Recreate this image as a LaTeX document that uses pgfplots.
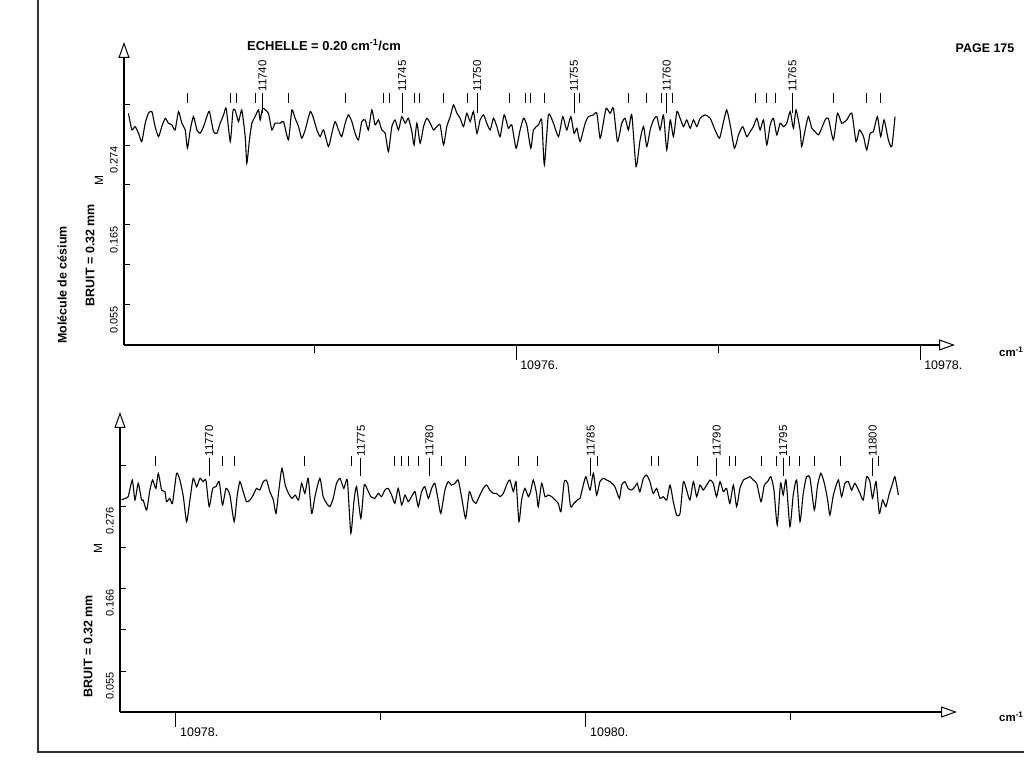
\documentclass[border=0pt]{standalone}
\usepackage{pgfplots}
\pgfplotsset{compat=1.18}
\usetikzlibrary{arrows.meta}
\usepackage{fontspec}
\setmainfont{Liberation Sans}
\tikzset{lbl/.style={rotate=90, anchor=west, inner sep=1.5bp, font=\fontsize{11.5}{12}\selectfont}}
\pgfplotsset{
 chart/.style={
  scale only axis, axis lines=left,
  axis line style={line width=1.1bp, -{Triangle[open,length=16bp,width=11bp,line width=1bp]}},
  tick align=outside,
  major tick length=15bp, minor tick length=8bp,
  tick style={black, line width=1bp},
  ytick style={/pgfplots/major tick length=6bp, xshift=6bp},
  scaled x ticks=false, scaled y ticks=false,
  /pgf/number format/assume math mode=true,
  xticklabel style={font=\fontsize{12.5}{13}\selectfont, anchor=north west, xshift=3bp, inner sep=1bp},
  yticklabel style={font=\fontsize{11}{12}\selectfont, rotate=90, anchor=south east, inner sep=0pt, xshift=-1bp, yshift=-9bp},
  trace/.style={black, line width=1.1bp, smooth, tension=0.35},
  shortmk/.style={only marks, mark=|, mark size=5pt, mark options={line width=1bp, black}},
  longmk/.style={only marks, mark=|, mark size=10pt, mark options={line width=1.1bp, black}},
 }
}
\begin{document}
\begin{tikzpicture}[x=1bp,y=1bp]
\useasboundingbox (0,0) rectangle (1024,768);
\fill[white] (0,0) rectangle (1024,768);
% ---------------- top panel
\begin{axis}[chart, at={(124bp,423bp)}, anchor=south west, width=831bp, height=303bp,
 xmin=10974.059, xmax=10978.173, ymin=0, ymax=0.4166,
 xtick={10976,10978}, xticklabels={10976.,10978.}, minor xtick={10975,10977},
 ytick={0.055,0.110,0.165,0.220,0.2745,0.330}, yticklabels={0.055,,0.165,,0.274,}]
\addplot[trace] coordinates {
(10974.081,0.3186)(10974.098,0.2957)(10974.114,0.3003)(10974.131,0.2911)(10974.147,0.2797)(10974.164,0.3049)(10974.180,0.3186)(10974.197,0.3209)(10974.213,0.3003)(10974.230,0.2865)(10974.246,0.3003)(10974.263,0.3117)(10974.279,0.3049)(10974.296,0.3026)(10974.312,0.2957)(10974.329,0.3209)(10974.345,0.3049)(10974.362,0.2957)(10974.373,0.2705)(10974.387,0.2957)(10974.403,0.3140)(10974.420,0.2957)(10974.436,0.2911)(10974.453,0.3003)(10974.469,0.3140)(10974.482,0.3209)(10974.502,0.2934)(10974.519,0.2911)(10974.535,0.3049)(10974.552,0.3163)(10974.565,0.3255)(10974.585,0.2797)(10974.598,0.3209)(10974.609,0.3232)(10974.626,0.3071)(10974.642,0.3232)(10974.659,0.2865)(10974.667,0.2499)(10974.680,0.2820)(10974.692,0.3049)(10974.708,0.3140)(10974.725,0.3232)(10974.733,0.3094)(10974.745,0.3255)(10974.758,0.3232)(10974.774,0.3186)(10974.791,0.2957)(10974.807,0.3049)(10974.832,0.3049)(10974.849,0.3071)(10974.873,0.2820)(10974.890,0.3232)(10974.906,0.3117)(10974.923,0.3003)(10974.939,0.2843)(10974.956,0.2957)(10974.981,0.3209)(10974.997,0.3117)(10975.014,0.2957)(10975.030,0.2865)(10975.047,0.2957)(10975.071,0.2728)(10975.088,0.2911)(10975.104,0.3071)(10975.121,0.2957)(10975.137,0.2865)(10975.154,0.3049)(10975.170,0.3163)(10975.187,0.3071)(10975.203,0.2911)(10975.220,0.2820)(10975.236,0.3071)(10975.253,0.3094)(10975.269,0.2957)(10975.286,0.3232)(10975.302,0.3026)(10975.319,0.3094)(10975.335,0.2957)(10975.352,0.2911)(10975.368,0.2659)(10975.385,0.3003)(10975.401,0.3094)(10975.418,0.2957)(10975.434,0.3140)(10975.451,0.3049)(10975.467,0.3117)(10975.484,0.2934)(10975.495,0.2751)(10975.509,0.3049)(10975.525,0.2774)(10975.542,0.3003)(10975.558,0.3117)(10975.575,0.3049)(10975.591,0.2957)(10975.608,0.3003)(10975.624,0.3026)(10975.641,0.2751)(10975.657,0.3003)(10975.674,0.3140)(10975.690,0.3300)(10975.707,0.3186)(10975.723,0.3117)(10975.740,0.3003)(10975.756,0.3186)(10975.773,0.3071)(10975.789,0.3209)(10975.806,0.2911)(10975.822,0.3094)(10975.839,0.3163)(10975.855,0.3049)(10975.872,0.2957)(10975.888,0.3117)(10975.905,0.3003)
(10975.921,0.2865)(10975.941,0.3163)(10975.962,0.2980)(10975.979,0.3026)(10976.000,0.2705)(10976.020,0.2957)(10976.037,0.3117)(10976.053,0.3026)(10976.073,0.2705)(10976.086,0.2957)(10976.111,0.3026)(10976.127,0.3094)(10976.140,0.2476)(10976.160,0.3163)(10976.185,0.3049)(10976.210,0.2865)(10976.231,0.3140)(10976.251,0.2957)(10976.271,0.3140)(10976.287,0.2911)(10976.301,0.2980)(10976.317,0.2797)(10976.342,0.3049)(10976.358,0.3140)(10976.383,0.3163)(10976.400,0.3186)(10976.416,0.2843)(10976.433,0.3071)(10976.446,0.3255)(10976.466,0.3186)(10976.482,0.3255)(10976.502,0.2797)(10976.523,0.3049)(10976.540,0.3117)(10976.556,0.2957)(10976.573,0.3163)(10976.594,0.2453)(10976.614,0.2820)(10976.631,0.3003)(10976.647,0.2728)(10976.664,0.2957)(10976.680,0.3094)(10976.697,0.3140)(10976.713,0.2957)(10976.730,0.3163)(10976.746,0.2682)(10976.763,0.3094)(10976.779,0.2865)(10976.796,0.3209)(10976.812,0.3117)(10976.829,0.3003)(10976.845,0.3094)(10976.862,0.2980)(10976.878,0.3094)(10976.895,0.3003)(10976.911,0.3117)(10976.936,0.3163)(10976.961,0.3117)(10976.985,0.2957)(10977.007,0.2843)(10977.027,0.3071)(10977.043,0.3232)(10977.060,0.3026)(10977.081,0.2705)(10977.101,0.2888)(10977.122,0.3003)(10977.142,0.2865)(10977.159,0.2934)(10977.175,0.3003)(10977.192,0.3117)(10977.208,0.2957)(10977.225,0.3094)(10977.241,0.2751)(10977.258,0.3026)(10977.274,0.3117)(10977.291,0.2888)(10977.307,0.3049)(10977.324,0.3003)(10977.340,0.3049)(10977.357,0.3209)(10977.373,0.2980)(10977.386,0.3232)(10977.406,0.2957)(10977.414,0.2728)(10977.431,0.2957)(10977.447,0.3140)(10977.464,0.2980)(10977.480,0.2934)(10977.497,0.2888)(10977.513,0.2980)(10977.530,0.3094)(10977.546,0.3117)(10977.571,0.2820)(10977.591,0.3186)(10977.612,0.3049)(10977.637,0.3094)(10977.662,0.3186)(10977.683,0.2797)(10977.700,0.2957)(10977.720,0.2865)(10977.736,0.2682)(10977.753,0.2911)(10977.769,0.2934)(10977.789,0.3140)(10977.805,0.2865)(10977.822,0.3094)(10977.843,0.2820)(10977.860,0.2728)(10977.876,0.3140)
};
\addplot[shortmk] coordinates {
(10974.373,0.3396)(10974.584,0.3396)(10974.617,0.3396)(10974.711,0.3396)(10974.873,0.3396)(10975.158,0.3396)(10975.343,0.3396)(10975.373,0.3396)(10975.495,0.3396)(10975.521,0.3396)(10975.640,0.3396)(10975.761,0.3396)(10975.967,0.3396)(10976.045,0.3396)(10976.073,0.3396)(10976.140,0.3396)(10976.313,0.3396)(10976.558,0.3396)(10976.644,0.3396)(10976.718,0.3396)(10976.776,0.3396)(10977.183,0.3396)(10977.241,0.3396)(10977.282,0.3396)(10977.571,0.3396)(10977.733,0.3396)(10977.802,0.3396)
};
\addplot[longmk] coordinates {
(10974.744,0.3328)(10975.437,0.3328)(10975.807,0.3328)(10976.287,0.3328)(10976.746,0.3328)(10977.368,0.3328)
};
\node[lbl] at (axis cs:10974.744,0.3465) {11740};
\node[lbl] at (axis cs:10975.437,0.3465) {11745};
\node[lbl] at (axis cs:10975.807,0.3465) {11750};
\node[lbl] at (axis cs:10976.287,0.3465) {11755};
\node[lbl] at (axis cs:10976.746,0.3465) {11760};
\node[lbl] at (axis cs:10977.368,0.3465) {11765};
\end{axis}
% ---------------- bottom panel
\begin{axis}[chart, at={(120bp,56bp)}, anchor=south west, width=837bp, height=300bp,
 xmin=10977.727, xmax=10981.810, ymin=0, ymax=0.4025,
 xtick={10978,10980}, xticklabels={10978.,10980.}, minor xtick={10979,10981},
 ytick={0.055,0.1105,0.166,0.221,0.276,0.331}, yticklabels={0.055,,0.166,,0.276,}]
\addplot[trace] coordinates {
(10977.735,0.2844)(10977.751,0.2866)(10977.767,0.2889)(10977.787,0.3112)(10977.800,0.2844)(10977.816,0.3068)(10977.832,0.2844)(10977.840,0.2844)(10977.857,0.2710)(10977.873,0.2978)(10977.886,0.3112)(10977.902,0.3000)(10977.914,0.3202)(10977.930,0.2978)(10977.946,0.2956)(10977.954,0.2822)(10977.970,0.2866)(10977.983,0.2799)(10978.003,0.3202)(10978.019,0.3112)(10978.036,0.2889)(10978.052,0.2553)(10978.068,0.2844)(10978.084,0.3135)(10978.101,0.3023)(10978.117,0.3135)(10978.133,0.3090)(10978.146,0.3112)(10978.162,0.2755)(10978.179,0.3000)(10978.195,0.3023)(10978.211,0.3090)(10978.227,0.2777)(10978.244,0.3000)(10978.263,0.2911)(10978.284,0.2553)(10978.299,0.2911)(10978.312,0.3090)(10978.328,0.2956)(10978.344,0.2822)(10978.361,0.2844)(10978.377,0.2911)(10978.393,0.3000)(10978.409,0.2978)(10978.426,0.3090)(10978.442,0.3112)(10978.458,0.2956)(10978.475,0.2844)(10978.488,0.2665)(10978.504,0.3023)(10978.517,0.3269)(10978.533,0.3045)(10978.549,0.2933)(10978.566,0.2866)(10978.582,0.2911)(10978.598,0.2844)(10978.613,0.3068)(10978.629,0.2933)(10978.645,0.3135)(10978.662,0.2665)(10978.678,0.2889)(10978.702,0.3135)(10978.718,0.2889)(10978.735,0.2799)(10978.751,0.2755)(10978.767,0.2866)(10978.783,0.3068)(10978.800,0.3135)(10978.819,0.3000)(10978.836,0.3112)(10978.853,0.2397)(10978.868,0.2822)(10978.881,0.3023)(10978.902,0.2598)(10978.918,0.3045)(10978.935,0.2978)(10978.951,0.2889)(10978.970,0.2866)(10978.987,0.2933)(10979.003,0.2889)(10979.019,0.2978)(10979.035,0.3000)(10979.052,0.2911)(10979.068,0.2799)(10979.084,0.3000)(10979.101,0.2777)(10979.117,0.2911)(10979.133,0.2822)(10979.149,0.2889)(10979.166,0.2956)(10979.182,0.2755)(10979.198,0.2956)(10979.214,0.3023)(10979.231,0.2866)(10979.247,0.3000)(10979.263,0.3068)(10979.279,0.2844)(10979.292,0.2665)(10979.312,0.2978)(10979.328,0.3090)(10979.344,0.3045)(10979.361,0.3068)(10979.377,0.3112)(10979.393,0.2889)(10979.413,0.2598)(10979.431,0.2956)(10979.447,0.2844)(10979.463,0.2799)(10979.479,0.2889)(10979.499,0.3000)(10979.515,0.3045)(10979.531,0.2978)(10979.548,0.2933)(10979.564,0.2933)
(10979.581,0.2889)(10979.597,0.2933)(10979.616,0.3068)(10979.629,0.3112)(10979.646,0.2956)(10979.659,0.3090)(10979.673,0.2553)(10979.686,0.2844)(10979.702,0.3000)(10979.719,0.2889)(10979.730,0.2956)(10979.743,0.3112)(10979.759,0.2933)(10979.767,0.2755)(10979.784,0.3068)(10979.800,0.2889)(10979.816,0.2911)(10979.833,0.2889)(10979.849,0.2844)(10979.865,0.2799)(10979.878,0.2687)(10979.894,0.3090)(10979.911,0.3068)(10979.925,0.2755)(10979.941,0.2799)(10979.958,0.2844)(10979.971,0.2866)(10979.987,0.3045)(10980.000,0.3157)(10980.020,0.2978)(10980.036,0.3202)(10980.052,0.2911)(10980.068,0.3090)(10980.085,0.3135)(10980.101,0.3112)(10980.117,0.3090)(10980.141,0.3023)(10980.163,0.2866)(10980.174,0.3045)(10980.190,0.3090)(10980.206,0.3000)(10980.223,0.2978)(10980.239,0.3023)(10980.250,0.3068)(10980.263,0.2956)(10980.280,0.3135)(10980.296,0.3179)(10980.312,0.3090)(10980.328,0.2933)(10980.345,0.3000)(10980.361,0.2866)(10980.377,0.2889)(10980.394,0.2844)(10980.410,0.3045)(10980.426,0.2822)(10980.442,0.2643)(10980.459,0.2665)(10980.475,0.3090)(10980.491,0.2978)(10980.507,0.2844)(10980.524,0.3090)(10980.540,0.2889)(10980.556,0.3045)(10980.572,0.2978)(10980.589,0.3045)(10980.605,0.3112)(10980.621,0.3068)(10980.637,0.2889)(10980.654,0.3090)(10980.670,0.2956)(10980.686,0.3000)(10980.702,0.2799)(10980.719,0.3045)(10980.735,0.2755)(10980.751,0.3000)(10980.768,0.3112)(10980.784,0.3135)(10980.800,0.3157)(10980.816,0.3112)(10980.833,0.3068)(10980.854,0.2822)(10980.870,0.3045)(10980.886,0.3090)(10980.902,0.3157)(10980.917,0.2978)(10980.933,0.2509)(10980.949,0.3068)(10980.962,0.2911)(10980.976,0.3112)(10980.995,0.2486)(10981.011,0.2911)(10981.028,0.3112)(10981.044,0.2553)(10981.060,0.2933)(10981.076,0.3157)(10981.093,0.3135)(10981.114,0.2710)(10981.130,0.3045)(10981.146,0.3202)(10981.163,0.3068)(10981.179,0.2844)(10981.190,0.2643)(10981.207,0.2911)(10981.231,0.3112)(10981.247,0.2889)(10981.263,0.3068)(10981.280,0.3090)(10981.296,0.2978)(10981.312,0.3068)(10981.337,0.2933)(10981.353,0.2844)(10981.369,0.3157)(10981.385,0.3090)(10981.398,0.2866)(10981.415,0.3090)(10981.431,0.2665)(10981.447,0.2844)(10981.463,0.2755)(10981.480,0.2933)(10981.496,0.3068)(10981.507,0.3157)(10981.524,0.2911)
};
\addplot[shortmk] coordinates {
(10977.898,0.3367)(10978.228,0.3367)(10978.284,0.3367)(10978.629,0.3367)(10978.857,0.3367)(10979.068,0.3367)(10979.101,0.3367)(10979.133,0.3367)(10979.182,0.3367)(10979.293,0.3367)(10979.413,0.3367)(10979.673,0.3367)(10979.764,0.3367)(10980.057,0.3367)(10980.320,0.3367)(10980.353,0.3367)(10980.543,0.3367)(10980.699,0.3367)(10980.728,0.3367)(10980.854,0.3367)(10980.930,0.3367)(10980.992,0.3367)(10981.044,0.3367)(10981.114,0.3367)(10981.244,0.3367)(10981.426,0.3367)
};
\addplot[longmk, mark size=9pt] coordinates {
(10978.162,0.3287)(10978.902,0.3287)(10979.236,0.3287)(10980.023,0.3287)(10980.638,0.3287)(10980.962,0.3287)(10981.399,0.3287)
};
\node[lbl] at (axis cs:10978.162,0.3407) {11770};
\node[lbl] at (axis cs:10978.902,0.3407) {11775};
\node[lbl] at (axis cs:10979.236,0.3407) {11780};
\node[lbl] at (axis cs:10980.023,0.3407) {11785};
\node[lbl] at (axis cs:10980.638,0.3407) {11790};
\node[lbl] at (axis cs:10980.962,0.3407) {11795};
\node[lbl] at (axis cs:10981.399,0.3407) {11800};
\end{axis}
% ---------------- texts and frame
\node[font=\bfseries\fontsize{13}{14}\selectfont] at (324,723) {ECHELLE = 0.20 cm\textsuperscript{-1}/cm};
\node[font=\bfseries\fontsize{12.5}{13}\selectfont] at (985,720) {PAGE 175};
\node[font=\bfseries\fontsize{11.5}{13}\selectfont, anchor=west, inner sep=0pt] at (999,416) {cm\textsuperscript{-1}};
\node[font=\bfseries\fontsize{11.5}{13}\selectfont, anchor=west, inner sep=0pt] at (999,51) {cm\textsuperscript{-1}};
\node[font=\bfseries\fontsize{12.5}{13}\selectfont, rotate=90] at (62,483) {Molécule de césium};
\node[font=\bfseries\fontsize{12.5}{13}\selectfont, rotate=90] at (90,513) {BRUIT = 0.32 mm};
\node[font=\bfseries\fontsize{12.5}{13}\selectfont, rotate=90] at (88,122) {BRUIT = 0.32 mm};
\node[font=\fontsize{12}{13}\selectfont, rotate=90] at (99,587) {M};
\node[font=\fontsize{12}{13}\selectfont, rotate=90] at (98,219) {M};
\draw[line width=2bp, black!80] (38,768) -- (38,16) -- (1024,16);
\end{tikzpicture}
\end{document}
